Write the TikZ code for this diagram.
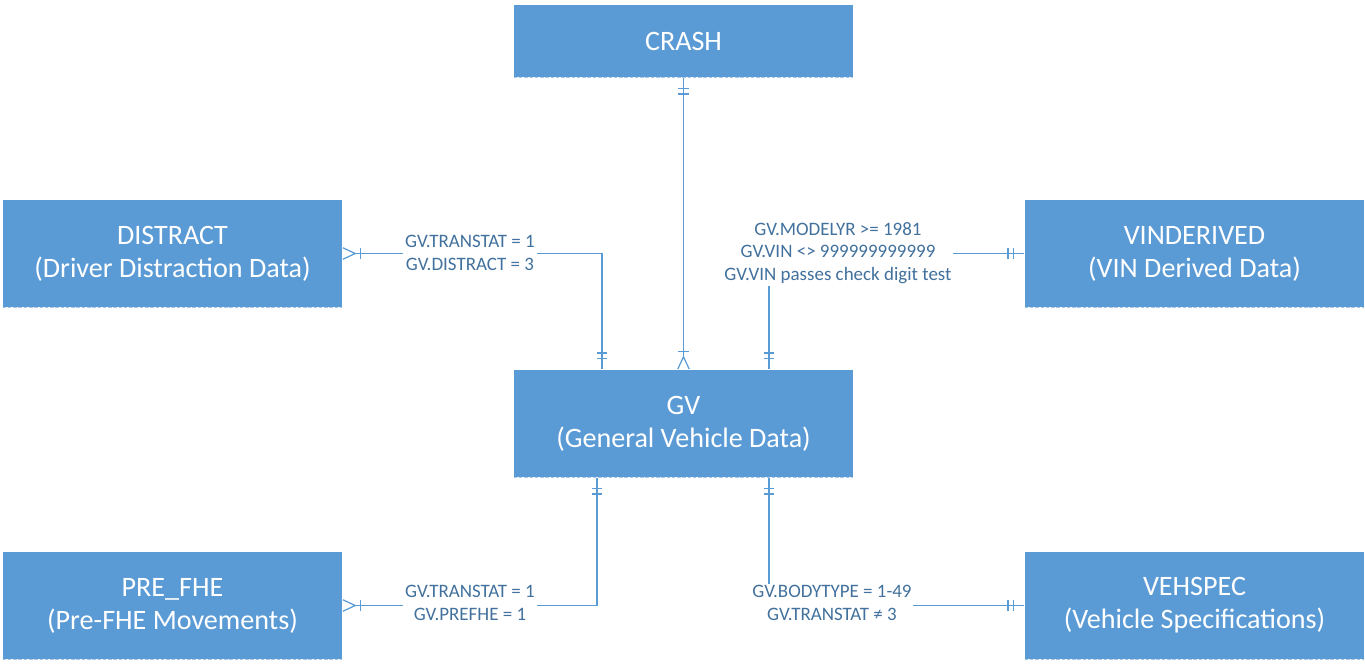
\documentclass[tikz,border=0pt]{standalone}
\usepackage{fontspec}
\setmainfont{Carlito}
\usetikzlibrary{arrows.meta,calc}
\definecolor{boxblue}{HTML}{5B9BD5}
\definecolor{textblue}{HTML}{41719C}
\definecolor{dashblue}{HTML}{A9C8E8}

\tikzset{
	entity/.style={fill=boxblue, text=white, minimum width=6.78cm, minimum height=2.14cm, align=center, inner sep=0pt, font=\fontsize{16}{18.7}\selectfont},
	rel/.style={draw=boxblue, line width=0.7pt},
	cond/.style={fill=white, text=textblue, align=center, inner sep=1pt, font=\fontsize{10.8}{13}\selectfont},
	edgeline/.style={draw=dashblue, line width=0.8pt, dash pattern=on 2pt off 1pt},
	mandone/.tip={Bar[width=6pt,sep=2.2pt] Bar[width=6pt,sep=5.5pt] Bar[width=0pt]},
	onemany/.tip={Bar[width=6pt,sep=2pt] Straight Barb[reversed, length=7pt, width=6.5pt]},
}

\begin{document}
\begin{tikzpicture}[x=0.02cm, y=-0.02cm]
	%%%%% START %%%%%
	
	\useasboundingbox (0, 0) rectangle (1365, 663);
	
	\node[entity, minimum height=1.44cm] (crash) at (683.5, 41) {CRASH};
	\node[entity] (distract) at (172.5, 253.5) {DISTRACT\\(Driver Distraction Data)};
	\node[entity] (vinderived) at (1194.5, 253.5) {VINDERIVED\\(VIN Derived Data)};
	\node[entity] (gv) at (683.5, 423.5) {GV\\(General Vehicle Data)};
	\node[entity] (prefhe) at (172.5, 605.5) {PRE\_FHE\\(Pre-FHE Movements)};
	\node[entity] (vehspec) at (1194.5, 605.5) {VEHSPEC\\(Vehicle Specifications)};
	
	\draw[edgeline] (crash.south west) -- (crash.south east);
	\draw[edgeline] (distract.south west) -- (distract.south east);
	\draw[edgeline] (vinderived.south west) -- (vinderived.south east);
	\draw[edgeline] (gv.south west) -- (gv.south east);
	\draw[edgeline] (prefhe.south west) -- (prefhe.south east);
	\draw[edgeline] (vehspec.south west) -- (vehspec.south east);
	
	\draw[rel, mandone-onemany] (crash) -- (gv);
	\draw[rel, onemany-mandone] (distract.east) -| ($(gv.north)+(-81.5,0)$);
	\draw[rel, mandone-mandone] (vinderived.west) -| ($(gv.north)+(85.5,0)$);
	\draw[rel, mandone-onemany] ($(gv.south)+(-86.5,0)$) |- (prefhe.east);
	\draw[rel, mandone-mandone] ($(gv.south)+(85.5,0)$) |- (vehspec.west);
	
	\node[cond] (c-distract) at (470, 253) {GV.TRANSTAT = 1\\GV.DISTRACT = 3};
	\node[cond] (c-vin) at (838, 253) {GV.MODELYR >= 1981\\GV.VIN <> 999999999999\\GV.VIN passes check digit test};
	\node[cond] (c-prefhe) at (470, 603) {GV.TRANSTAT = 1\\GV.PREFHE = 1};
	\node[cond] (c-vehspec) at (832, 603) {GV.BODYTYPE = 1-49\\GV.TRANSTAT ≠ 3};
	
	%%%%% END %%%%%
\end{tikzpicture}
\end{document}
